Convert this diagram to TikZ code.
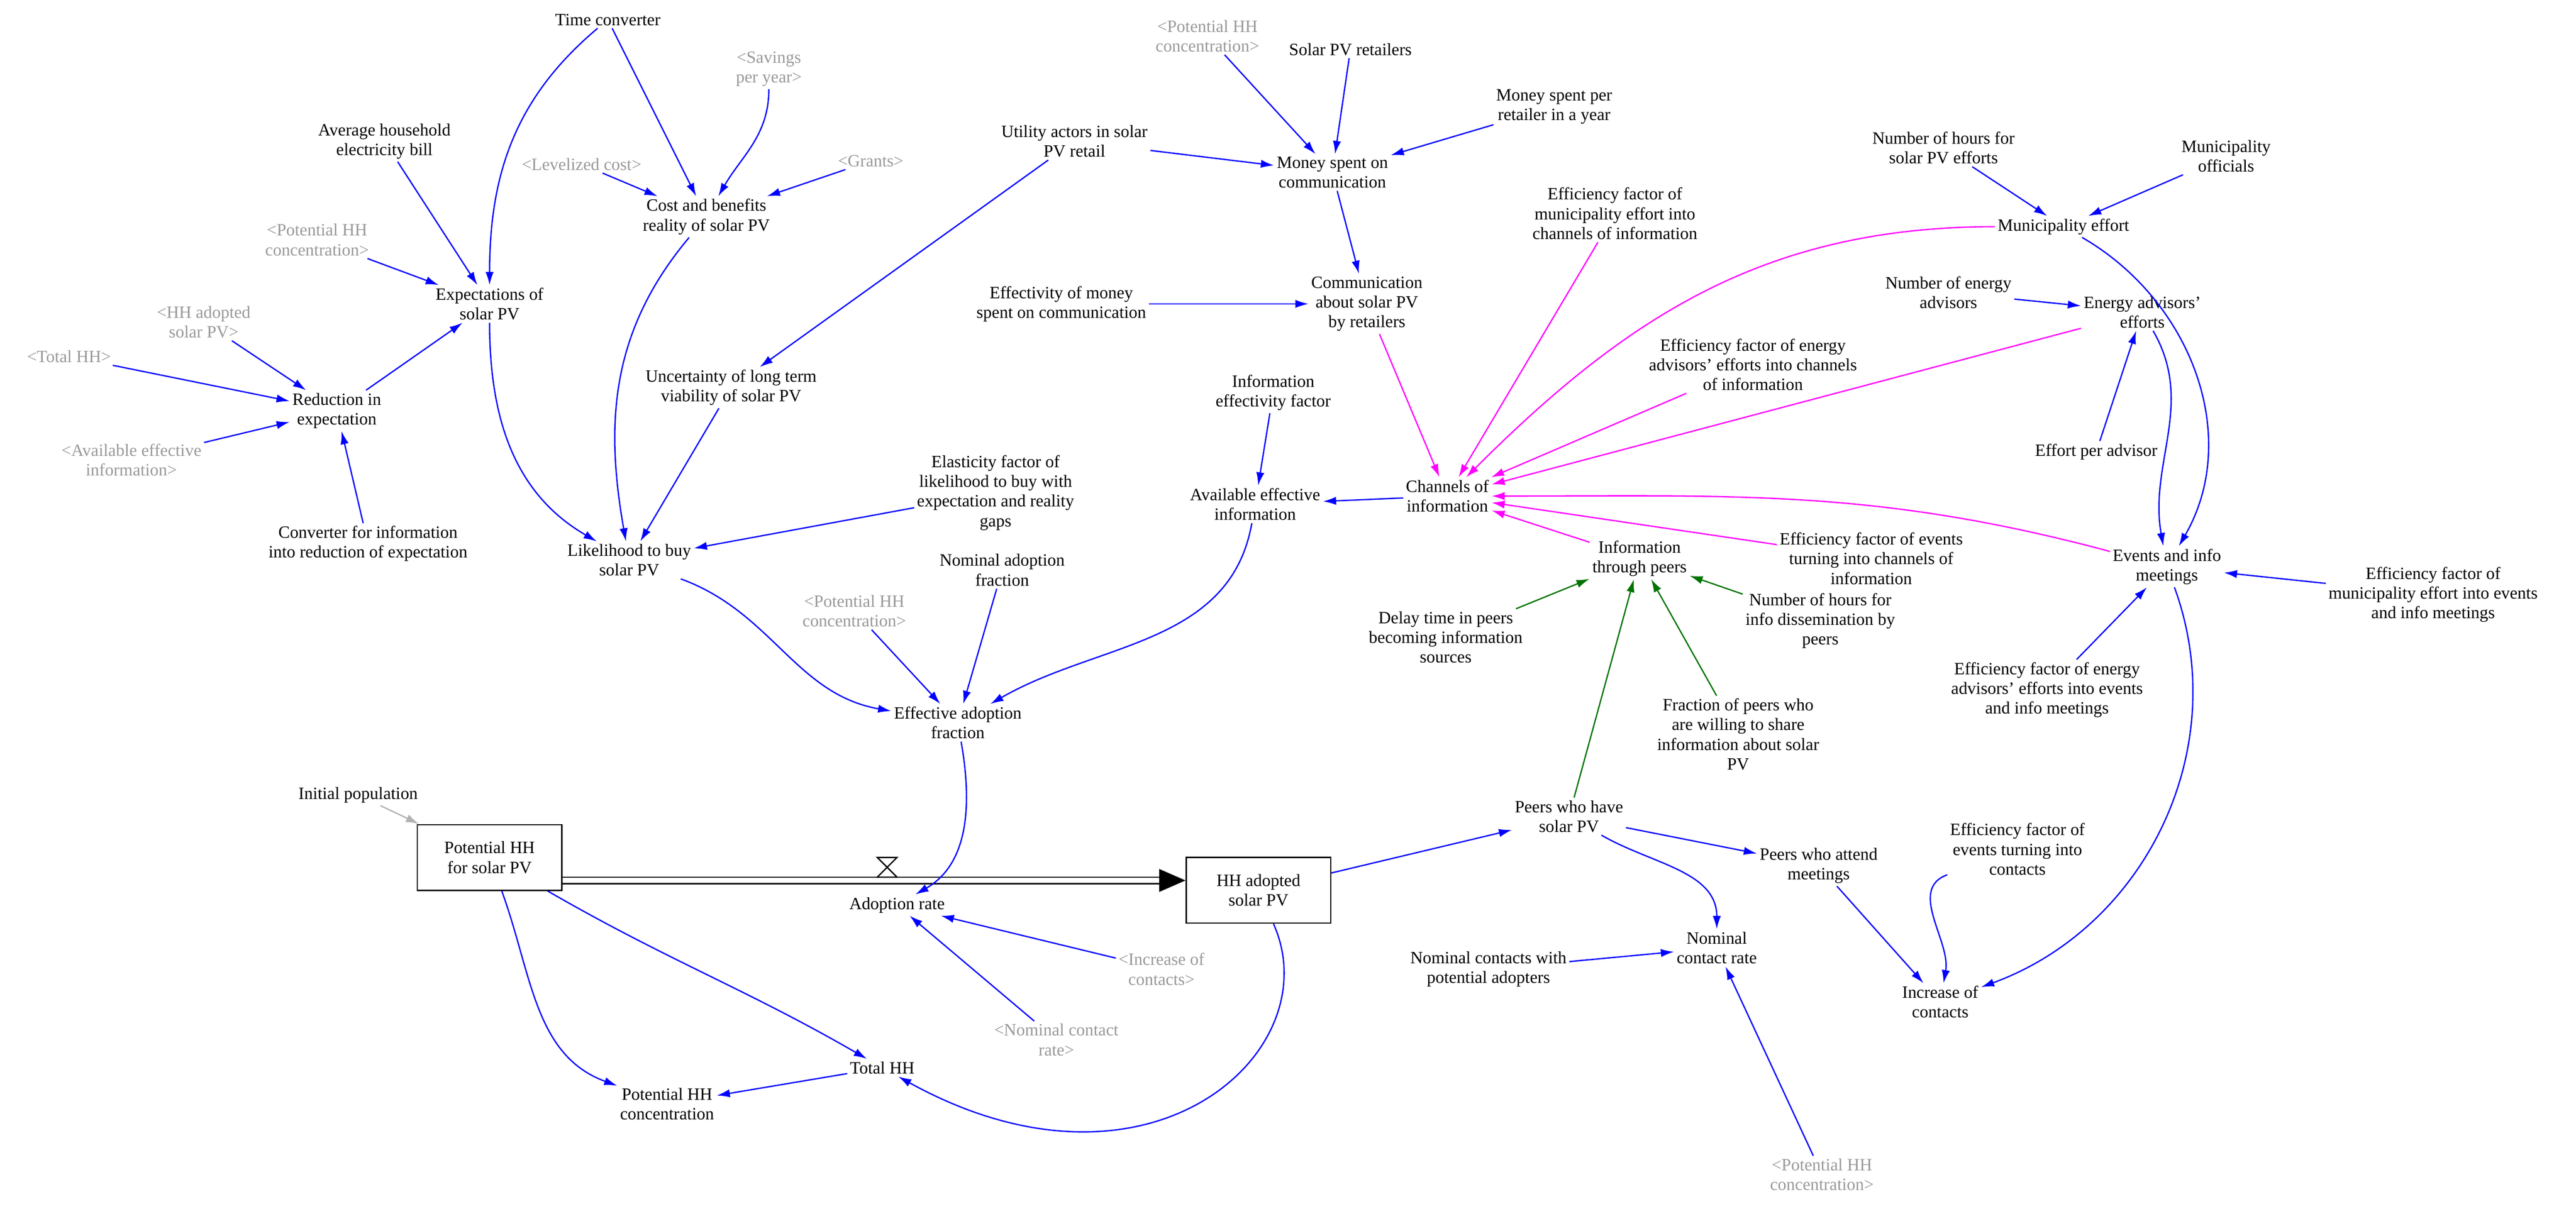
\documentclass[tikz,border=0pt]{standalone}
\usepackage{fontspec}
\setmainfont{Liberation Serif}
\usetikzlibrary{arrows.meta}
\definecolor{mag}{rgb}{1,0,1}
\begin{document}
\begin{tikzpicture}[x=1pt,y=-1pt,
 every node/.style={font=\fontsize{10.5}{12}\selectfont,align=center,inner sep=1.5pt},
 g/.style={text=gray!80},
 bx/.style={draw,thick,minimum width=88pt,minimum height=40pt},
 a/.style={-{Latex[length=8pt,width=5pt]},blue,thick},
 m/.style={-{Latex[length=8pt,width=5pt]},mag,thick},
 gr/.style={-{Latex[length=8pt,width=5pt]},green!45!black,thick},
 gy/.style={-{Latex[length=8pt,width=5pt]},gray!60,thick}]
\useasboundingbox (0,0) rectangle (1568,736);
\node (timeconv) at (370,12) {Time converter};
\node[g] (savings) at (468,42) {<Savings\\per year>};
\node (avgbill) at (234,86) {Average household\\electricity bill};
\node[g] (levcost) at (354,100) {<Levelized cost>};
\node[g] (grants) at (530,98) {<Grants>};
\node (cbr) at (430,132) {Cost and benefits\\reality of solar PV};
\node[g] (phhc1) at (193,146) {<Potential HH\\concentration>};
\node (expect) at (298,185) {Expectations of\\solar PV};
\node[g] (hhad1) at (124,196) {<HH adopted\\solar PV>};
\node[g] (totalhh1) at (42,217) {<Total HH>};
\node (reduction) at (205,250) {Reduction in\\expectation};
\node[g] (avail1) at (80,280) {<Available effective\\information>};
\node (conv) at (224,331) {Converter for information\\into reduction of expectation};
\node (utility) at (654,86) {Utility actors in solar\\PV retail};
\node (uncert) at (445,236) {Uncertainty of long term\\viability of solar PV};
\node (likelihood) at (383,341) {Likelihood to buy\\solar PV};
\node (elasticity) at (606,300) {Elasticity factor of\\likelihood to buy with\\expectation and reality\\gaps};
\node[g] (phhc2) at (735,22) {<Potential HH\\concentration>};
\node (retailers) at (822,30) {Solar PV retailers};
\node (moneyper) at (946,65) {Money spent per\\retailer in a year};
\node (moneycomm) at (811,105) {Money spent on\\communication};
\node (effmoney) at (646,185) {Effectivity of money\\spent on communication};
\node (commret) at (832,185) {Communication\\about solar PV\\by retailers};
\node (infoeff) at (775,239) {Information\\effectivity factor};
\node (availinfo) at (764,307) {Available effective\\information};
\node (nominal) at (610,347) {Nominal adoption\\fraction};
\node[g] (phhc3) at (520,372) {<Potential HH\\concentration>};
\node (effadopt) at (583,440) {Effective adoption\\fraction};
\node (channels) at (881,302) {Channels of\\information};
\node (effmun) at (983,130) {Efficiency factor of\\municipality effort into\\channels of information};
\node (numhours) at (1183,90) {Number of hours for\\solar PV efforts};
\node (munoff) at (1355,95) {Municipality\\officials};
\node (muneff) at (1256,138) {Municipality effort};
\node (numadv) at (1186,178) {Number of energy\\advisors};
\node (advefforts) at (1304,190) {Energy advisors'\\efforts};
\node (effadv) at (1067,222) {Efficiency factor of energy\\advisors' efforts into channels\\of information};
\node (effortper) at (1276,275) {Effort per advisor};
\node (infopeers) at (998,340) {Information\\through peers};
\node (effevents) at (1139,340) {Efficiency factor of events\\turning into channels of\\information};
\node (events) at (1319,345) {Events and info\\meetings};
\node (effmunev) at (1481,362) {Efficiency factor of\\municipality effort into events\\and info meetings};
\node (delay) at (880,388) {Delay time in peers\\becoming information\\sources};
\node (numhinfo) at (1108,378) {Number of hours for\\info dissemination by\\peers};
\node (fraction) at (1058,447) {Fraction of peers who\\are willing to share\\information about solar\\PV};
\node (effadvev) at (1246,420) {Efficiency factor of energy\\advisors' efforts into events\\and info meetings};
\node (initpop) at (218,484) {Initial population};
\node[bx] (potHH) at (298,522) {Potential HH\\for solar PV};
\node (adoption) at (546,551) {Adoption rate};
\node[bx] (hhadopted) at (766,542) {HH adopted\\solar PV};
\node (peers) at (955,497) {Peers who have\\solar PV};
\node (peersattend) at (1107,527) {Peers who attend\\meetings};
\node (efftc) at (1228,517) {Efficiency factor of\\events turning into\\contacts};
\node (nomcr) at (1045,577) {Nominal\\contact rate};
\node (nomcontacts) at (906,590) {Nominal contacts with\\potential adopters};
\node[g] (incr) at (707,590) {<Increase of\\contacts>};
\node (incrc) at (1181,610) {Increase of\\contacts};
\node[g] (nomcr2) at (643,633) {<Nominal contact\\rate>};
\node (totalhh) at (537,650) {Total HH};
\node (phhconc) at (406,672) {Potential HH\\concentration};
\node[g] (phhc4) at (1109,715) {<Potential HH\\concentration>};
% left cluster
\draw[a] (timeconv) to[out=220,in=90] (expect);
\draw[a] (timeconv) -- (cbr);
\draw[a] (savings) to[out=270,in=60] (cbr);
\draw[a] (levcost) -- (cbr);
\draw[a] (grants) -- (cbr);
\draw[a] (avgbill) -- (expect);
\draw[a] (phhc1) -- (expect);
\draw[a] (reduction) -- (expect);
\draw[a] (hhad1) -- (reduction);
\draw[a] (totalhh1) -- (reduction);
\draw[a] (avail1) -- (reduction);
\draw[a] (conv) -- (reduction);
\draw[a] (expect) to[out=270,in=150] (likelihood);
\draw[a] (cbr) to[out=230,in=100] (likelihood);
\draw[a] (uncert) -- (likelihood);
\draw[a] (utility) -- (uncert);
\draw[a] (utility) -- (moneycomm);
\draw[a] (elasticity) -- (likelihood);
\draw[a] (phhc2) -- (moneycomm);
\draw[a] (retailers) -- (moneycomm);
\draw[a] (moneyper) -- (moneycomm);
\draw[a] (moneycomm) -- (commret);
\draw[a] (effmoney) -- (commret);
% channels
\draw[m] (commret) -- (channels);
\draw[m] (effmun) -- (channels);
\draw[m] (muneff) to[out=180,in=45] (channels);
\draw[m] (effadv) -- (channels);
\draw[m] (advefforts) -- (channels);
\draw[m] (events) to[out=165,in=0] (channels);
\draw[m] (infopeers) -- (channels);
\draw[m] (effevents) -- (channels);
\draw[a] (channels) -- (availinfo);
\draw[a] (infoeff) -- (availinfo);
\draw[a] (availinfo) to[out=260,in=30] (effadopt);
\draw[a] (likelihood) to[out=340,in=170] (effadopt);
\draw[a] (nominal) -- (effadopt);
\draw[a] (phhc3) -- (effadopt);
\draw[a] (numhours) -- (muneff);
\draw[a] (munoff) -- (muneff);
\draw[a] (numadv) -- (advefforts);
\draw[a] (effortper) -- (advefforts);
\draw[a] (muneff) to[out=330,in=60] (events);
\draw[a] (advefforts) to[out=300,in=100] (events);
\draw[a] (effmunev) -- (events);
\draw[a] (effadvev) -- (events);
\draw[gr] (delay) -- (infopeers);
\draw[gr] (numhinfo) -- (infopeers);
\draw[gr] (fraction) -- (infopeers);
\draw[gr] (peers) -- (infopeers);
% stock-flow
\draw[gy] (initpop) -- (potHH);
\coordinate (p1) at (potHH.east |- 0,536);
\coordinate (p2) at (hhadopted.west |- 0,536);
\draw[thick] ([yshift=-2pt]p1) -- ([xshift=-14pt,yshift=-2pt]p2);
\draw[thick] ([yshift=2pt]p1) -- ([xshift=-14pt,yshift=2pt]p2);
\fill ([xshift=-16pt,yshift=-7pt]p2) -- (p2) -- ([xshift=-16pt,yshift=7pt]p2) -- cycle;
\draw[thick,fill=white] (534,522) -- (546,522) -- (534,534) -- (546,534) -- cycle;
\draw[a] (effadopt) to[out=280,in=30] (adoption);
\draw[a] (incr) -- (adoption);
\draw[a] (nomcr2) -- (adoption);
\draw[a] (potHH) to[out=290,in=160] (phhconc);
\draw[a] (potHH) to[out=330,in=150] (totalhh);
\draw[a] (hhadopted) .. controls (810,640) and (700,740) .. (totalhh);
\draw[a] (totalhh) -- (phhconc);
\draw[a] (hhadopted) -- (peers);
\draw[a] (peers) -- (peersattend);
\draw[a] (peers) to[out=330,in=90] (nomcr);
\draw[a] (nomcontacts) -- (nomcr);
\draw[a] (phhc4) -- (nomcr);
\draw[a] (peersattend) -- (incrc);
\draw[a] (efftc) to[out=200,in=80] (incrc);
\draw[a] (events) to[out=290,in=20] (incrc);
\end{tikzpicture}
\end{document}
